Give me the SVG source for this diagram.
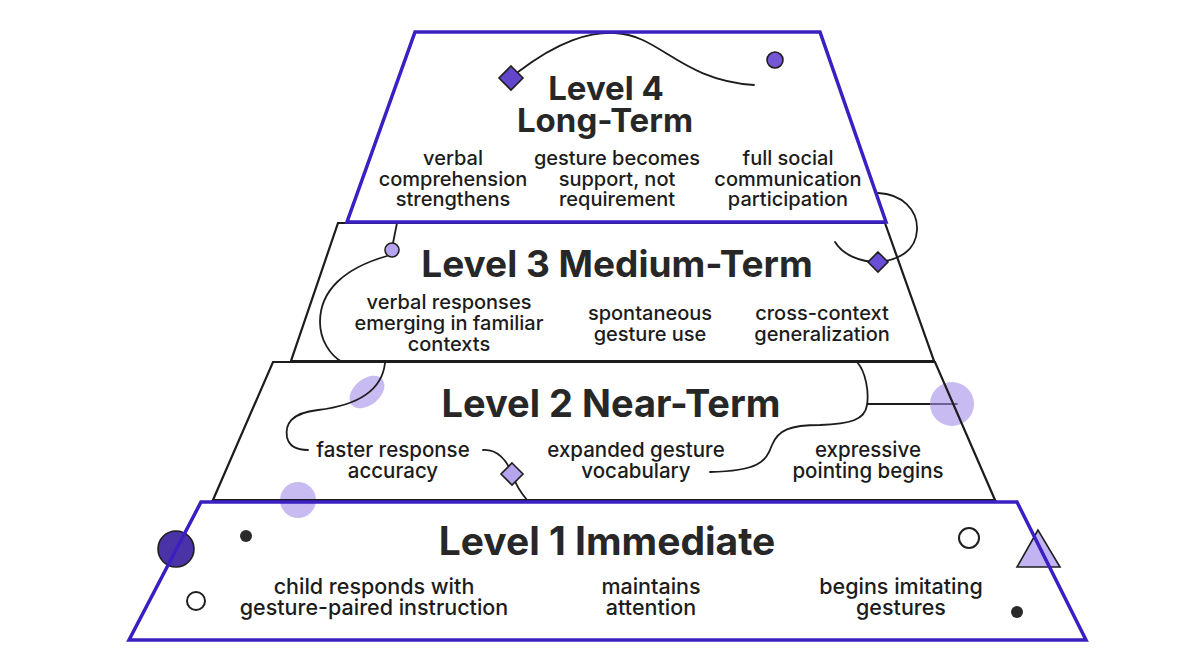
<svg xmlns="http://www.w3.org/2000/svg" width="1200" height="669" viewBox="0 0 1200 669">
<style>
.bg{fill:#ffffff}
.tp{fill:none;stroke:#3a1fc2;stroke-width:3.5;stroke-linejoin:miter}
.tb{fill:none;stroke:#1c1c1c;stroke-width:2.2;stroke-linejoin:miter}
.cn{fill:none;stroke:#1c1c1c;stroke-width:1.8;stroke-linecap:round}
.soft{fill:#a28ee8;fill-opacity:0.6;stroke:none}
.dk{stroke:#1f1f1f;stroke-width:1.6}
.title{font-family:Inter,"Noto Sans","Liberation Sans",sans-serif;font-weight:700;font-size:37px;fill:#272727;text-anchor:middle}
.body{font-family:Inter,"Noto Sans","Liberation Sans",sans-serif;font-weight:500;font-size:20px;fill:#1c1c1c;text-anchor:middle}
</style>
<rect class="bg" x="0" y="0" width="1200" height="669"/>

<g id="connectors">
  <path class="cn" d="M518,72 C560,40 590,32 615,33 C660,35 680,80 754,85"/>
  <path class="cn" d="M878,193 C902,194 918,210 917,230 C916,250 900,260 878,262 C860,262 843,255 835,242"/>
  <path class="cn" d="M397,223 L393,243"/>
  <path class="cn" d="M387,256 C345,268 320,290 320,322 C320,340 330,355 342,362"/>
  <ellipse class="soft" cx="367" cy="392" rx="20" ry="13" transform="rotate(-40 367 392)"/>
  <path class="cn" d="M385,363 C382,390 360,405 318,410 C290,413 285,425 287,437 C289,447 298,450 308,450"/>
  <path class="cn" d="M483,450 C497,449 507,460 512,474 C516,486 522,494 527,500"/>
  <path class="cn" d="M857,362 C866,372 869,392 867,405 C865,420 850,424 820,425 C790,425 778,430 772,445 C766,462 758,471 710,472"/>
  <path class="cn" d="M868,404 L957,404"/>
  <circle class="soft" cx="952" cy="404" r="22"/>
  <circle class="soft" cx="298" cy="500" r="18"/>
</g>

<g id="decor">
  <polygon points="511,66 523,78 511,90 499,78" fill="#6446cc" class="dk"/>
  <circle cx="775" cy="60" r="8" fill="#7456d6" class="dk"/>
  <polygon points="878,252 888,262 878,272 868,262" fill="#6a4fd6" class="dk"/>
  <circle cx="392" cy="250" r="7" fill="#b6a5ee" class="dk"/>
  <polygon points="512,463 523,474 512,485 501,474" fill="#b6a5ee" class="dk"/>
  <circle cx="176" cy="549" r="18" fill="#4a33a6" class="dk"/>
  <circle cx="246" cy="536" r="6" fill="#2a2a2a"/>
  <circle cx="196" cy="601" r="9" fill="#ffffff" stroke="#1f1f1f" stroke-width="2"/>
  <circle cx="969" cy="538" r="10" fill="#ffffff" stroke="#1f1f1f" stroke-width="2"/>
  <polygon points="1038,530 1017,567 1060,567" fill="#c2b3f2" class="dk"/>
  <circle cx="1017" cy="612" r="6" fill="#2a2a2a"/>
</g>

<g id="level3">
  <polygon class="tb" points="338,223 885,223 934,361 291,361"/>
  <text class="title" x="617" y="277">Level 3 Medium-Term</text>
  <text class="body" x="449" y="309">verbal responses</text>
  <text class="body" x="449" y="330">emerging in familiar</text>
  <text class="body" x="449" y="351">contexts</text>
  <text class="body" x="650" y="320">spontaneous</text>
  <text class="body" x="650" y="341">gesture use</text>
  <text class="body" x="822" y="320">cross-context</text>
  <text class="body" x="822" y="341">generalization</text>
</g>

<g id="level2">
  <polygon class="tb" points="273,362 935,362 995,500 213,500"/>
  <text class="title" x="611" y="417" style="font-size:38px">Level 2 Near-Term</text>
  <text class="body" x="393" y="457" style="font-size:20.5px">faster response</text>
  <text class="body" x="393" y="478" style="font-size:20.5px">accuracy</text>
  <text class="body" x="636" y="457" style="font-size:20.5px">expanded gesture</text>
  <text class="body" x="636" y="478" style="font-size:20.5px">vocabulary</text>
  <text class="body" x="868" y="457" style="font-size:20.5px">expressive</text>
  <text class="body" x="868" y="478" style="font-size:20.5px">pointing begins</text>
</g>

<g id="level4">
  <polygon class="tp" points="415,32 820,32 886,222 347,222"/>
  <text class="title" x="606" y="100" style="font-size:33px">Level 4</text>
  <text class="title" x="605" y="132" style="font-size:33px">Long-Term</text>
  <text class="body" x="453" y="165">verbal</text>
  <text class="body" x="453" y="186">comprehension</text>
  <text class="body" x="453" y="206">strengthens</text>
  <text class="body" x="617" y="165">gesture becomes</text>
  <text class="body" x="617" y="186">support, not</text>
  <text class="body" x="617" y="206">requirement</text>
  <text class="body" x="788" y="165">full social</text>
  <text class="body" x="788" y="186">communication</text>
  <text class="body" x="788" y="206">participation</text>
</g>

<g id="level1">
  <polygon class="tp" points="201,502 1017,502 1086,640 129,640"/>
  <text class="title" x="607" y="555" style="font-size:39px">Level 1 Immediate</text>
  <text class="body" x="374" y="594" style="font-size:21.5px">child responds with</text>
  <text class="body" x="374" y="615" style="font-size:21.5px">gesture-paired instruction</text>
  <text class="body" x="651" y="594" style="font-size:21.5px">maintains</text>
  <text class="body" x="651" y="615" style="font-size:21.5px">attention</text>
  <text class="body" x="901" y="594" style="font-size:21.5px">begins imitating</text>
  <text class="body" x="901" y="615" style="font-size:21.5px">gestures</text>
</g>
</svg>
